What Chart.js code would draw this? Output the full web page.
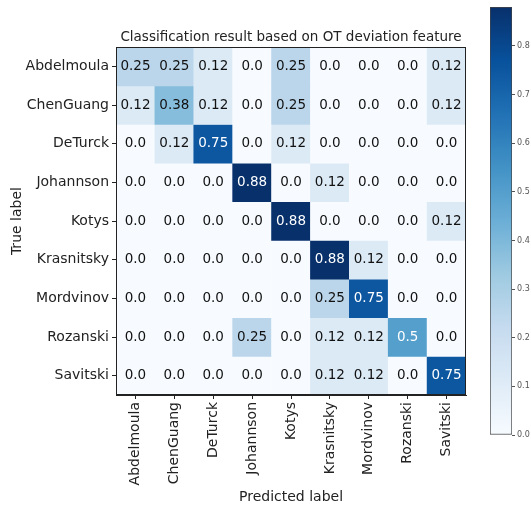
<!DOCTYPE html>
<html>
<head>
<meta charset="utf-8">
<script src="https://cdn.jsdelivr.net/npm/chart.js@4.4.0/dist/chart.umd.min.js"></script>
<style>
html, body { margin: 0; padding: 0; background: #fff; }
#wrap { position: relative; width: 531px; height: 506px; }
#cm { position: absolute; left: 0; top: 0; }
#cb { position: absolute; left: 470px; top: 0; }
</style>
</head>
<body>
<div id="wrap">
<canvas id="cm" width="480" height="506"></canvas>
<canvas id="cb" width="61" height="506"></canvas>
</div>
<script>
// class names (rows = true label, columns = predicted label)
var trueLabels = ['Abdelmoula', 'ChenGuang', 'DeTurck', 'Johannson', 'Kotys', 'Krasnitsky', 'Mordvinov', 'Rozanski', 'Savitski'];
var predLabels = ['Abdelmoula', 'ChenGuang', 'DeTurck', 'Johannson', 'Kotys', 'Krasnitsky', 'Mordvinov', 'Rozanski', 'Savitski'];

// one row per true class
var abdelmoula = [0.25, 0.25, 0.12, 0.0, 0.25, 0.0, 0.0, 0.0, 0.12];
var chenGuang  = [0.12, 0.38, 0.12, 0.0, 0.25, 0.0, 0.0, 0.0, 0.12];
var deTurck    = [0.0, 0.12, 0.75, 0.0, 0.12, 0.0, 0.0, 0.0, 0.0];
var johannson  = [0.0, 0.0, 0.0, 0.88, 0.0, 0.12, 0.0, 0.0, 0.0];
var kotys      = [0.0, 0.0, 0.0, 0.0, 0.88, 0.0, 0.0, 0.0, 0.12];
var krasnitsky = [0.0, 0.0, 0.0, 0.0, 0.0, 0.88, 0.12, 0.0, 0.0];
var mordvinov  = [0.0, 0.0, 0.0, 0.0, 0.0, 0.25, 0.75, 0.0, 0.0];
var rozanski   = [0.0, 0.0, 0.0, 0.25, 0.0, 0.12, 0.12, 0.5, 0.0];
var savitski   = [0.0, 0.0, 0.0, 0.0, 0.0, 0.12, 0.12, 0.0, 0.75];

var matrix = [abdelmoula, chenGuang, deTurck, johannson, kotys, krasnitsky, mordvinov, rozanski, savitski];

// colorbar
var cbarTicks = [0.0, 0.1, 0.2, 0.3, 0.4, 0.5, 0.6, 0.7, 0.8];
var vmax = 0.88;

Chart.defaults.font.family = "'DejaVu Sans', sans-serif";
Chart.defaults.color = '#222';

// matplotlib "Blues"
var blues = ['#f7fbff', '#deebf7', '#c6dbef', '#9ecae1', '#6baed6', '#4292c6', '#2171b5', '#08519c', '#08306b'];
function hexRgb(h) {
    return [parseInt(h.substr(1, 2), 16), parseInt(h.substr(3, 2), 16), parseInt(h.substr(5, 2), 16)];
}
function bluesAt(t) {
    t = Math.max(0, Math.min(1, t));
    var p = t * 8;
    var i = Math.min(7, Math.floor(p));
    var f = p - i;
    var a = hexRgb(blues[i]), b = hexRgb(blues[i + 1]);
    return 'rgb(' + Math.round(a[0] + (b[0] - a[0]) * f) + ',' +
        Math.round(a[1] + (b[1] - a[1]) * f) + ',' +
        Math.round(a[2] + (b[2] - a[2]) * f) + ')';
}
function fmt(v) {
    return Number.isInteger(Math.round(v * 1000) / 100) ? v.toFixed(1) : String(v);
}

var cellText = {
    id: 'cellText',
    afterDatasetsDraw: function(chart) {
        var ctx = chart.ctx;
        ctx.save();
        ctx.font = "13.5px 'DejaVu Sans', sans-serif";
        ctx.textAlign = 'center';
        ctx.textBaseline = 'middle';
        chart.data.datasets.forEach(function(ds, r) {
            chart.getDatasetMeta(r).data.forEach(function(el, c) {
                var v = matrix[r][c];
                var p = el.getCenterPoint();
                ctx.fillStyle = v > vmax / 2 ? '#fff' : '#111';
                ctx.fillText(fmt(v), p.x, p.y);
            });
        });
        ctx.restore();
    }
};

var frame = {
    id: 'frame',
    afterDraw: function(chart) {
        var a = chart.chartArea, ctx = chart.ctx;
        ctx.save();
        ctx.strokeStyle = '#222';
        ctx.lineWidth = 1;
        ctx.strokeRect(Math.round(a.left) + 0.5, Math.round(a.top) + 0.5,
            Math.round(a.right - a.left) - 1, Math.round(a.bottom - a.top) - 1);
        ctx.restore();
    }
};

new Chart(document.getElementById('cm'), {
    type: 'bar',
    data: {
        labels: predLabels,
        datasets: matrix.map(function(row, r) {
            return {
                label: trueLabels[r],
                data: row.map(function() { return [r, r + 1]; }),
                backgroundColor: row.map(function(v) { return bluesAt(v / vmax); }),
                borderWidth: 0,
                barPercentage: 1,
                categoryPercentage: 1,
                grouped: false
            };
        })
    },
    options: {
        responsive: false,
        animation: false,
        layout: { padding: { top: 26, bottom: 0, left: 0, right: 14 } },
        plugins: {
            legend: { display: false },
            tooltip: { enabled: false },
            title: {
                display: true,
                text: 'Classification result based on OT deviation feature',
                fullSize: false,
                align: 'center',
                font: { size: 13.5, weight: 'normal' },
                color: '#222',
                padding: { top: 3, bottom: 2 }
            }
        },
        scales: {
            x: {
                type: 'category',
                offset: true,
                grid: { offset: false, drawOnChartArea: false, tickLength: 4, color: '#222' },
                border: { display: true, color: '#222' },
                ticks: { minRotation: 90, maxRotation: 90, autoSkip: false, font: { size: 14 }, color: '#222', padding: 3 },
                title: { display: true, text: 'Predicted label', font: { size: 14 }, color: '#222', padding: { top: 3, bottom: 0 } },
                afterFit: function(s) { s.height = 111; }
            },
            y: {
                type: 'linear',
                min: 0,
                max: 9,
                reverse: true,
                afterBuildTicks: function(s) {
                    s.ticks = trueLabels.map(function(l, i) { return { value: i + 0.5 }; });
                },
                grid: { drawOnChartArea: false, tickLength: 4, color: '#222' },
                border: { display: true, color: '#222' },
                ticks: {
                    callback: function(v) { return trueLabels[Math.floor(v)]; },
                    font: { size: 14 }, color: '#222', padding: 3
                },
                title: { display: true, text: 'True label', font: { size: 14 }, color: '#222', padding: { top: 9, bottom: 0 } },
                afterFit: function(s) { s.width = 116; }
            }
        }
    },
    plugins: [cellText, frame]
});

new Chart(document.getElementById('cb'), {
    type: 'bar',
    data: {
        labels: [''],
        datasets: [{
            data: [[0, vmax]],
            backgroundColor: function(c) {
                var a = c.chart.chartArea;
                if (!a) return blues[4];
                var g = c.chart.ctx.createLinearGradient(0, a.bottom, 0, a.top);
                blues.forEach(function(col, i) { g.addColorStop(i / 8, col); });
                return g;
            },
            borderWidth: 1,
            borderColor: '#444',
            borderSkipped: false,
            barPercentage: 1,
            categoryPercentage: 1
        }]
    },
    options: {
        responsive: false,
        animation: false,
        layout: { padding: { top: 7, bottom: 71, left: 20, right: 0 } },
        plugins: { legend: { display: false }, tooltip: { enabled: false } },
        scales: {
            x: { display: false },
            y: {
                position: 'right',
                min: 0,
                max: vmax,
                afterBuildTicks: function(s) {
                    s.ticks = cbarTicks.map(function(v) { return { value: v }; });
                },
                ticks: { callback: function(v) { return v.toFixed(1); }, font: { size: 8 }, color: '#555', padding: 2 },
                grid: { drawOnChartArea: false, tickLength: 3, color: '#555' },
                border: { display: false },
                afterFit: function(s) { s.width = 19; }
            }
        }
    }
});
</script>
</body>
</html>
